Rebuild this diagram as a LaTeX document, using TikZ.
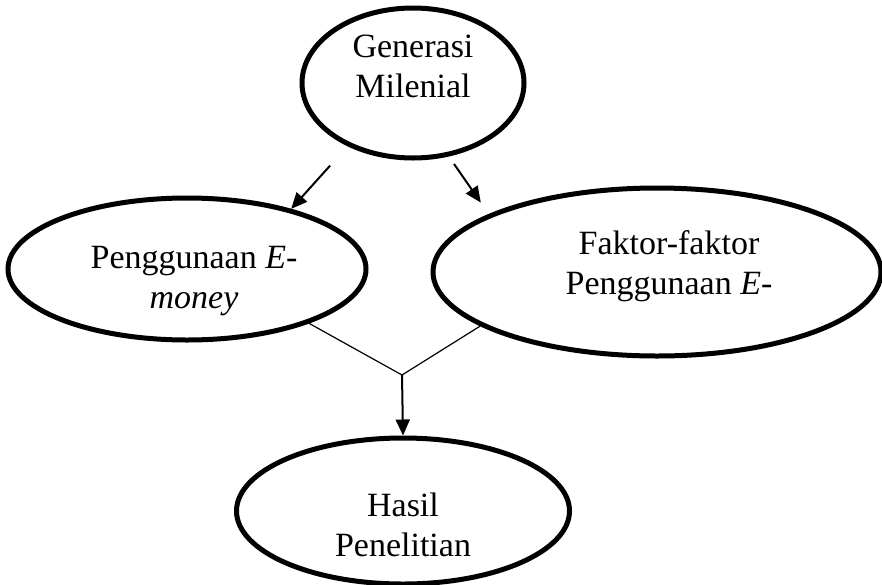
\documentclass[tikz,border=0pt]{standalone}
\usepackage{fontspec}
\setmainfont{Liberation Serif}
\usetikzlibrary{arrows.meta, shapes.geometric}

\tikzset{
  blob/.style={ellipse, draw, line width=2.5pt, inner sep=0pt},
  txt/.style={align=center, font=\fontsize{17}{20}\selectfont},
  arr/.style={-{Triangle[length=8pt, width=7pt]}, line width=1pt},
  fork/.style={line width=0.6pt}
}

\begin{document}
\begin{tikzpicture}[x=0.5pt, y=-0.5pt]

\useasboundingbox (0,0) rectangle (882,584);

% ellipses
\node[blob, minimum width=111pt, minimum height=75pt] (gen) at (413,83) {};
\node[blob, minimum width=179pt, minimum height=71pt] (pen) at (187,269) {};
\node[blob, minimum width=224pt, minimum height=84pt] (fak) at (657,272) {};
\node[blob, minimum width=166.5pt, minimum height=73pt] (has) at (403,511) {};

% texts
\node[txt] (gen-t) at (413,66) {Generasi\\Milenial};
\node[txt] (pen-t) at (194,281) {Penggunaan \textit{E}-\\\textit{money}};
\node[txt] (fak-t) at (669,266) {Faktor-faktor\\Penggunaan \textit{E}-};
\node[txt] (has-t) at (403,525) {Hasil\\Penelitian};

% arrows
\draw[arr, shorten <=13pt] (gen.224) -- (pen.30);
\draw[arr, shorten <=4.5pt, shorten >=7pt] (gen.296) -- (fak.161);

\coordinate (join) at (402,375);
\draw[fork] (pen.336) -- (join) -- (fak.197);
\draw[arr] (join) -- (has.north);

\end{tikzpicture}
\end{document}
